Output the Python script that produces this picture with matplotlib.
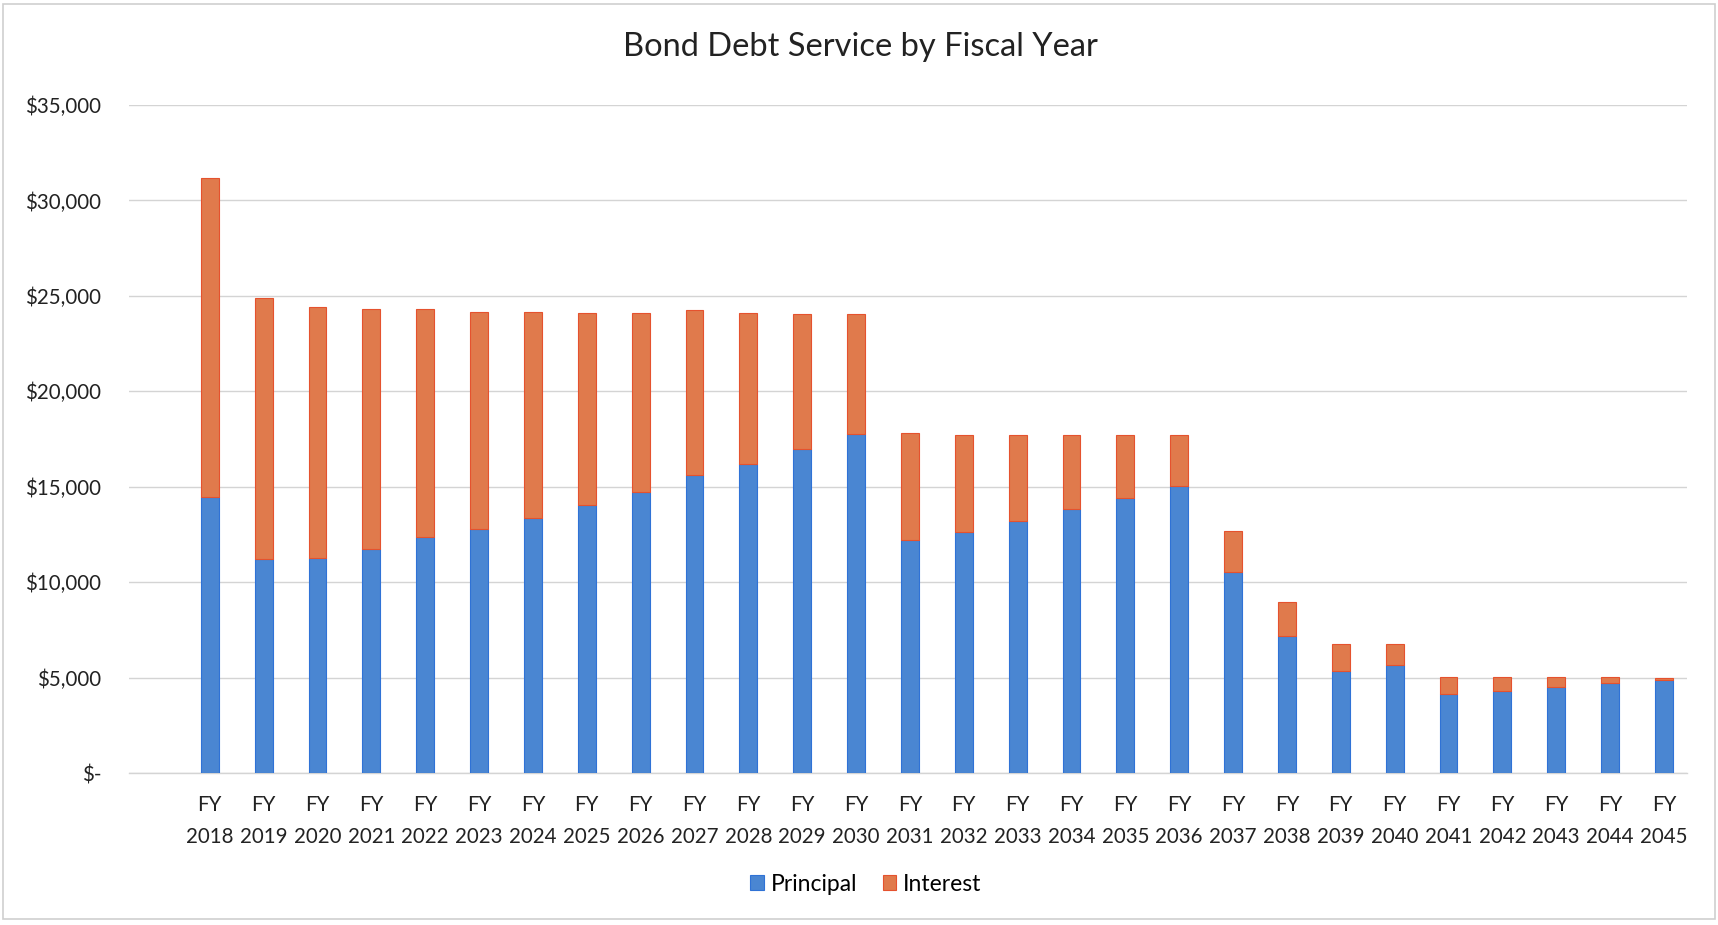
import numpy as np
import matplotlib.pyplot as plt
from matplotlib.patches import Rectangle
from matplotlib.ticker import FuncFormatter

# Datos (miles de dólares)
years = list(range(2018, 2046))
principal = [14440, 11220, 11290, 11760, 12340, 12770, 13370, 14020, 14700, 15620,
             16200, 16980, 17750, 12200, 12640, 13200, 13820, 14420, 15050, 10550,
             7200, 5350, 5680, 4120, 4310, 4500, 4720, 4860]
totals = [31170, 24890, 24430, 24300, 24300, 24180, 24160, 24120, 24100, 24240,
          24090, 24050, 24050, 17820, 17720, 17720, 17720, 17720, 17720, 12700,
          8950, 6780, 6750, 5030, 5010, 5010, 5010, 5000]
interest = [t - p for t, p in zip(totals, principal)]
tick_labels = ["FY\n%d" % y for y in years]

blue = "#4a86d2"
orange = "#e07a4c"

plt.rcParams['font.family'] = ['Lato', 'DejaVu Sans']

fig = plt.figure(figsize=(17.18, 9.25), dpi=100)
ax = fig.add_axes([0.0751, 0.1643, 0.9069, 0.7222])

x = np.arange(len(years))
ax.bar(x, principal, width=0.33, color=blue, edgecolor="#2f72d6", linewidth=0.8,
       label="Principal", zorder=3)
ax.bar(x, interest, bottom=principal, width=0.33, color=orange, edgecolor="#e5522e",
       linewidth=0.8, label="Interest", zorder=3)

ax.set_ylim(0, 35000)
ax.set_xlim(-1.5, 27.43)
ax.set_yticks(np.arange(0, 35001, 5000))
ax.yaxis.set_major_formatter(FuncFormatter(lambda v, p: "$-" if v == 0 else "${:,.0f}".format(v)))
ax.set_xticks(x)
ax.set_xticklabels(tick_labels, linespacing=1.72)
ax.tick_params(axis="y", length=0, pad=20, labelsize=14.8, colors="#222222")
ax.tick_params(axis="x", length=0, pad=16, labelsize=14.8, colors="#222222")

ax.grid(axis="y", color="#d4d4d4", linewidth=1.0, zorder=0)
for s in ["top", "right", "left"]:
    ax.spines[s].set_visible(False)
ax.spines["bottom"].set_color("#d4d4d4")
ax.spines["bottom"].set_linewidth(1.0)

fig.text(0.5006, 0.949, "Bond Debt Service by Fiscal Year", ha="center", va="center",
         fontsize=23.5, color="#222222")

fig.legend(loc="center", bbox_to_anchor=(0.504, 0.044), ncol=2, frameon=False,
           fontsize=16.5, handlelength=0.6, handleheight=0.6, handletextpad=0.3,
           columnspacing=1.1)

# marco del gráfico
fig.patches.append(Rectangle((0.002, 0.006), 0.996, 0.99, transform=fig.transFigure,
                             fill=False, edgecolor="#cfcfcf", linewidth=1.2))

plt.savefig("out.png", dpi=100)
